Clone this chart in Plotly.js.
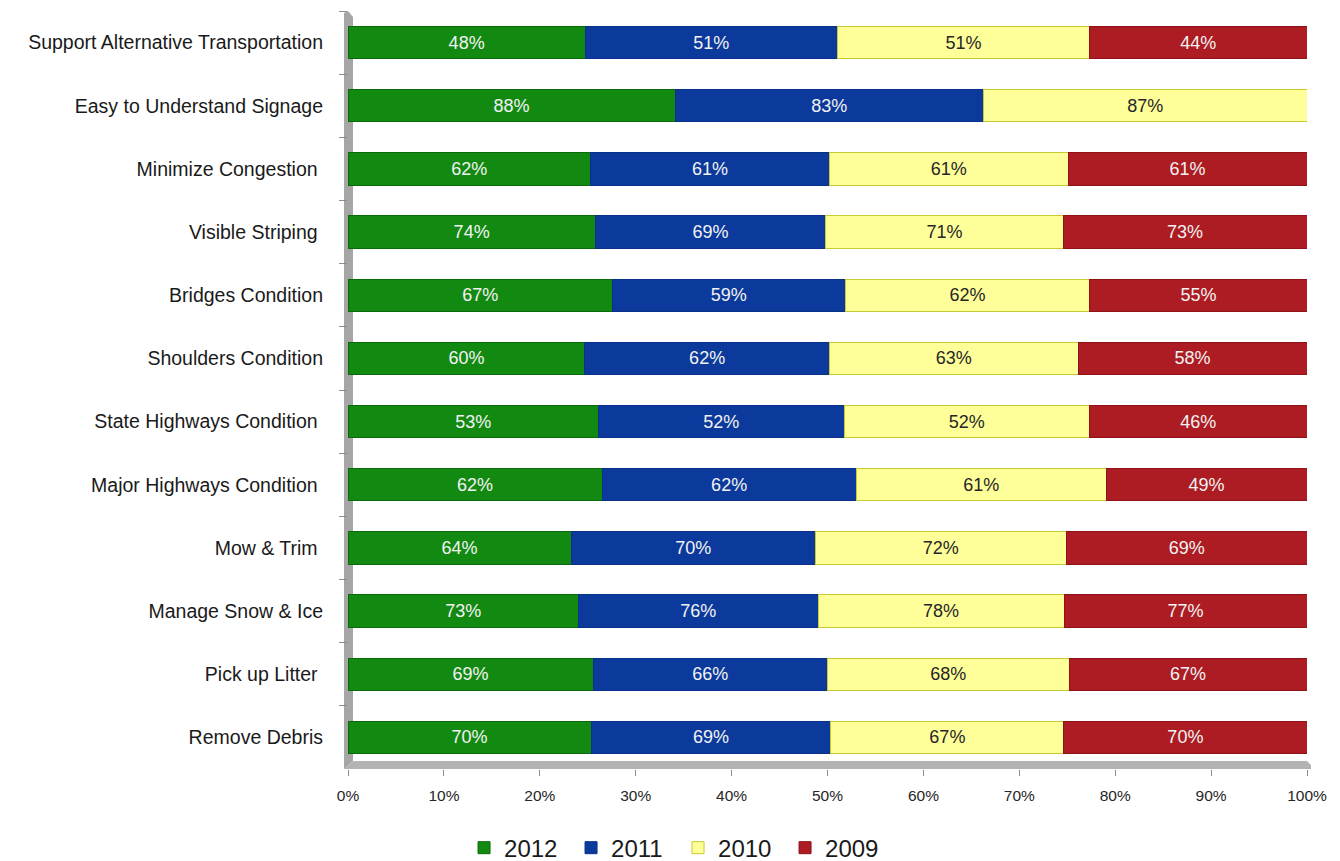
<!DOCTYPE html>
<html>
<head>
<meta charset="utf-8">
<script src="https://cdn.plot.ly/plotly-3.0.1.min.js"></script>
<style>html,body{margin:0;padding:0;background:#fff;}#chart{width:1340px;height:861px;}</style>
</head>
<body>
<div id="chart"></div>
<script>
const categories = [
  "Support Alternative Transportation",
  "Easy to Understand Signage",
  "Minimize Congestion ",
  "Visible Striping ",
  "Bridges Condition",
  "Shoulders Condition",
  "State Highways Condition ",
  "Major Highways Condition ",
  "Mow & Trim ",
  "Manage Snow & Ice",
  "Pick up Litter ",
  "Remove Debris"
];
const seriesNames = ["2012", "2011", "2010", "2009"];
const v2012 = [48, 88, 62, 74, 67, 60, 53, 62, 64, 73, 69, 70];
const v2011 = [51, 83, 61, 69, 59, 62, 52, 62, 70, 76, 66, 69];
const v2010 = [51, 87, 61, 71, 62, 63, 52, 61, 72, 78, 68, 67];
const v2009 = [44, null, 61, 73, 55, 58, 46, 49, 69, 77, 67, 70];
const xTickVals = [0, 10, 20, 30, 40, 50, 60, 70, 80, 90, 100];

const colors = ["#128a12", "#0b3a9c", "#ffff99", "#ad1c22"];
const lineColors = ["#0b6a0b", "#08308a", "#c9c930", "#8e1218"];
const textColors = ["#f2f2f2", "#f2f2f2", "#262626", "#f2f2f2"];
const allVals = [v2012, v2011, v2010, v2009];

const FONT = "Liberation Sans, Arial, sans-serif";

const traces = allVals.map((vals, i) => ({
  type: "bar",
  orientation: "h",
  name: seriesNames[i],
  y: categories,
  x: vals,
  text: vals.map(v => v == null ? "" : v + "%"),
  textposition: "inside",
  insidetextanchor: "middle",
  textangle: 0,
  constraintext: "none",
  textfont: {family: FONT, size: 18, color: textColors[i]},
  marker: {color: colors[i], line: {color: lineColors[i], width: 1}},
  hoverinfo: "skip"
}));

const plotW = 1307 - 348;
const plotH = 769 - 11;
const px = p => p / plotW;
const py = p => p / plotH;

const layout = {
  width: 1340,
  height: 861,
  margin: {l: 348, r: 33, t: 11, b: 92, autoexpand: false},
  paper_bgcolor: "#ffffff",
  plot_bgcolor: "#ffffff",
  barmode: "stack",
  barnorm: "percent",
  bargap: 0.49,
  font: {family: FONT, color: "#262626"},
  showlegend: true,
  legend: {
    orientation: "h",
    xref: "container", yref: "container",
    x: 0.506, xanchor: "center",
    y: 0.015, yanchor: "middle",
    font: {size: 24, color: "#1a1a1a"},
    entrywidth: 62,
    traceorder: "normal"
  },
  xaxis: {
    range: [0, 100],
    tickmode: "array",
    tickvals: xTickVals,
    ticktext: xTickVals.map(v => v + "%"),
    ticks: "outside",
    ticklen: 6,
    tickcolor: "#8c8c8c",
    ticklabelstandoff: 6,
    tickangle: 0,
    showgrid: false,
    zeroline: false,
    showline: false,
    tickfont: {size: 15.5, color: "#262626"},
    fixedrange: true
  },
  yaxis: {
    type: "category",
    autorange: "reversed",
    tickson: "boundaries",
    ticks: "outside",
    ticklen: 8,
    tickcolor: "#8c8c8c",
    ticklabelstandoff: 24,
    showgrid: false,
    zeroline: false,
    showline: false,
    tickfont: {size: 19.5, color: "#1a1a1a"},
    fixedrange: true
  },
  shapes: [
    {
      type: "path", xref: "paper", yref: "paper", layer: "below",
      path: `M ${px(-4)},${py(0)} L ${px(-4)},${1 - py(2)} L ${px(0)},${1} L ${px(5)},${1 - py(6)} L ${px(5)},${py(8)} L ${px(-4)},${py(0)} Z`,
      fillcolor: "#a6a6a6", line: {width: 0}
    },
    {
      type: "path", xref: "paper", yref: "paper", layer: "below",
      path: `M ${px(-4)},${py(0)} L ${1 + px(4)},${py(0)} L ${1 + px(4)},${py(4)} L ${1},${py(8)} L ${px(5)},${py(8)} Z`,
      fillcolor: "#b3b3b3", line: {width: 0}
    }
  ]
};

Plotly.newPlot("chart", traces, layout, {displayModeBar: false, staticPlot: true});
</script>
</body>
</html>
